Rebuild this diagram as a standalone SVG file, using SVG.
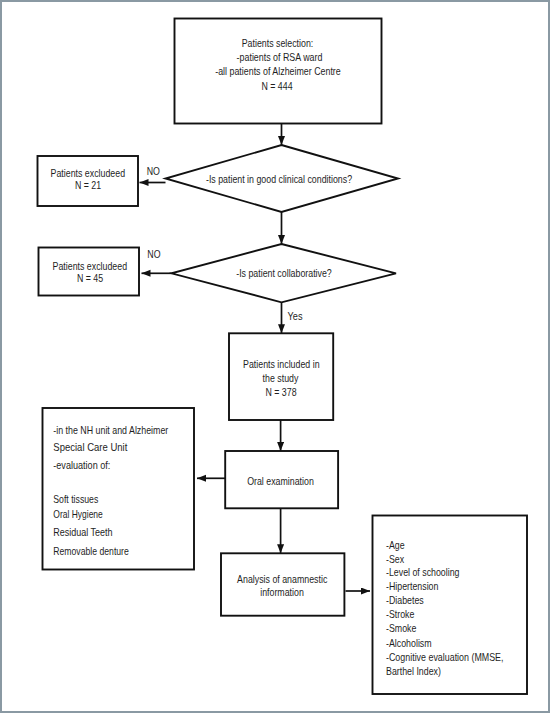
<svg xmlns="http://www.w3.org/2000/svg" width="550" height="713" viewBox="0 0 550 713">
  <style>
    .box { fill: #ffffff; stroke: #111111; stroke-width: 1.9; }
    .con { fill: none; stroke: #111111; stroke-width: 1.7; marker-end: url(#arr); }
    text { font-family: "Liberation Sans", Arial, sans-serif; font-size: 10.5px; fill: #1e1e1e; }
    .c { text-anchor: middle; }
    .big { font-size: 11px; }
  </style>
  <defs>
    <marker id="arr" markerUnits="userSpaceOnUse" markerWidth="10" markerHeight="8" refX="9" refY="3.5" orient="auto">
      <path d="M0,0 L9,3.5 L0,7 Z" fill="#111111"/>
    </marker>
  </defs>

  <rect x="1" y="1" width="548" height="711" fill="#ffffff" stroke="#8a99a3" stroke-width="2"/>

  <g id="connectors">
    <line class="con" x1="281.5" y1="123.5" x2="281.5" y2="145"/>
    <line class="con" x1="165.5" y1="182.5" x2="139.5" y2="182.5"/>
    <line class="con" x1="281.5" y1="212" x2="281.5" y2="244"/>
    <line class="con" x1="171.5" y1="273.3" x2="141.5" y2="273.3"/>
    <line class="con" x1="281.5" y1="302.3" x2="281.5" y2="333.3"/>
    <line class="con" x1="280.6" y1="420" x2="280.6" y2="451"/>
    <line class="con" x1="225" y1="478.3" x2="197" y2="478.3"/>
    <line class="con" x1="280.6" y1="508.3" x2="280.6" y2="553.3"/>
    <line class="con" x1="345.5" y1="591" x2="370" y2="591"/>
    <text x="146.7" y="174.8" textLength="13.2" lengthAdjust="spacingAndGlyphs">NO</text>
    <text x="147.3" y="258" textLength="13.2" lengthAdjust="spacingAndGlyphs">NO</text>
    <text x="287.5" y="320" textLength="15" lengthAdjust="spacingAndGlyphs">Yes</text>
  </g>

  <g id="selection">
    <rect class="box" x="174.5" y="18.5" width="207" height="105"/>
    <text class="c" x="277.5" y="47" textLength="71.6" lengthAdjust="spacingAndGlyphs">Patients selection:</text>
    <text class="c" x="279.5" y="61" textLength="85.8" lengthAdjust="spacingAndGlyphs">-patients of RSA ward</text>
    <text class="c" x="278" y="75.3" textLength="125.5" lengthAdjust="spacingAndGlyphs">-all patients of Alzheimer Centre</text>
    <text class="c" x="277" y="89.6" textLength="31.1" lengthAdjust="spacingAndGlyphs">N = 444</text>
  </g>

  <g id="decision1">
    <polygon class="box" points="281.5,145 398,178.5 281.5,212 165.5,178.5"/>
    <text class="c" x="279" y="182.6" textLength="146.1" lengthAdjust="spacingAndGlyphs">-Is patient in good clinical conditions?</text>
  </g>

  <g id="excluded1">
    <rect class="box" x="37.5" y="156" width="100.5" height="50"/>
    <text class="c" x="87.8" y="177" textLength="74.5" lengthAdjust="spacingAndGlyphs">Patients excludeed</text>
    <text class="c" x="88" y="189" textLength="26.2" lengthAdjust="spacingAndGlyphs">N = 21</text>
  </g>

  <g id="decision2">
    <polygon class="box" points="281.5,244 396,273.3 281.5,302.3 171.5,273.3"/>
    <text class="c" x="284" y="277" textLength="95.6" lengthAdjust="spacingAndGlyphs">-Is patient collaborative?</text>
  </g>

  <g id="excluded2">
    <rect class="box" x="38.5" y="247.5" width="100.5" height="48"/>
    <text class="c" x="89.8" y="270.3" textLength="74.5" lengthAdjust="spacingAndGlyphs">Patients excludeed</text>
    <text class="c" x="90" y="282.2" textLength="26.2" lengthAdjust="spacingAndGlyphs">N = 45</text>
  </g>

  <g id="included">
    <rect class="box" x="229" y="333.3" width="104.2" height="86.7"/>
    <text class="c" x="281.3" y="367.8" textLength="76.5" lengthAdjust="spacingAndGlyphs">Patients included in</text>
    <text class="c" x="280.5" y="382" textLength="35.8" lengthAdjust="spacingAndGlyphs">the study</text>
    <text class="c" x="281" y="396" textLength="31.1" lengthAdjust="spacingAndGlyphs">N = 378</text>
  </g>

  <g id="oral">
    <rect class="box" x="225.2" y="451" width="112.9" height="57.3"/>
    <text class="c" x="280.5" y="485.4" textLength="66.7" lengthAdjust="spacingAndGlyphs">Oral examination</text>
  </g>

  <g id="oral-details">
    <rect class="box" x="42.5" y="408" width="151.5" height="161.5"/>
    <text class="big" x="53.3" y="434" textLength="115" lengthAdjust="spacingAndGlyphs">-in the NH unit and Alzheimer</text>
    <text class="big" x="53.3" y="451.3" textLength="74" lengthAdjust="spacingAndGlyphs">Special Care Unit</text>
    <text class="big" x="53.3" y="469" textLength="57" lengthAdjust="spacingAndGlyphs">-evaluation of:</text>
    <text class="big" x="53.3" y="503.3" textLength="45" lengthAdjust="spacingAndGlyphs">Soft tissues</text>
    <text class="big" x="53.3" y="518.3" textLength="49.5" lengthAdjust="spacingAndGlyphs">Oral Hygiene</text>
    <text class="big" x="53.3" y="536" textLength="59.3" lengthAdjust="spacingAndGlyphs">Residual Teeth</text>
    <text class="big" x="53.3" y="554.7" textLength="75.5" lengthAdjust="spacingAndGlyphs">Removable denture</text>
  </g>

  <g id="analysis">
    <rect class="box" x="221" y="553.3" width="123.4" height="62.4"/>
    <text class="c" x="282.2" y="583" textLength="90.2" lengthAdjust="spacingAndGlyphs">Analysis of anamnestic</text>
    <text class="c" x="282" y="596.4" textLength="43.6" lengthAdjust="spacingAndGlyphs">information</text>
  </g>

  <g id="anamnestic-details">
    <rect class="box" x="372.5" y="515.5" width="154.5" height="178.5"/>
    <text x="386" y="549" textLength="18.6" lengthAdjust="spacingAndGlyphs">-Age</text>
    <text x="386" y="562.7" textLength="18.1" lengthAdjust="spacingAndGlyphs">-Sex</text>
    <text x="386" y="576" textLength="73.5" lengthAdjust="spacingAndGlyphs">-Level of schooling</text>
    <text x="386" y="589.7" textLength="52.4" lengthAdjust="spacingAndGlyphs">-Hipertension</text>
    <text x="386" y="604.4" textLength="37.7" lengthAdjust="spacingAndGlyphs">-Diabetes</text>
    <text x="386" y="618.4" textLength="28.4" lengthAdjust="spacingAndGlyphs">-Stroke</text>
    <text x="386" y="632.4" textLength="30.4" lengthAdjust="spacingAndGlyphs">-Smoke</text>
    <text x="386" y="646.7" textLength="45.6" lengthAdjust="spacingAndGlyphs">-Alcoholism</text>
    <text x="386" y="660.7" textLength="117.5" lengthAdjust="spacingAndGlyphs">-Cognitive evaluation (MMSE,</text>
    <text x="386" y="675" textLength="54.9" lengthAdjust="spacingAndGlyphs">Barthel Index)</text>
  </g>
</svg>
